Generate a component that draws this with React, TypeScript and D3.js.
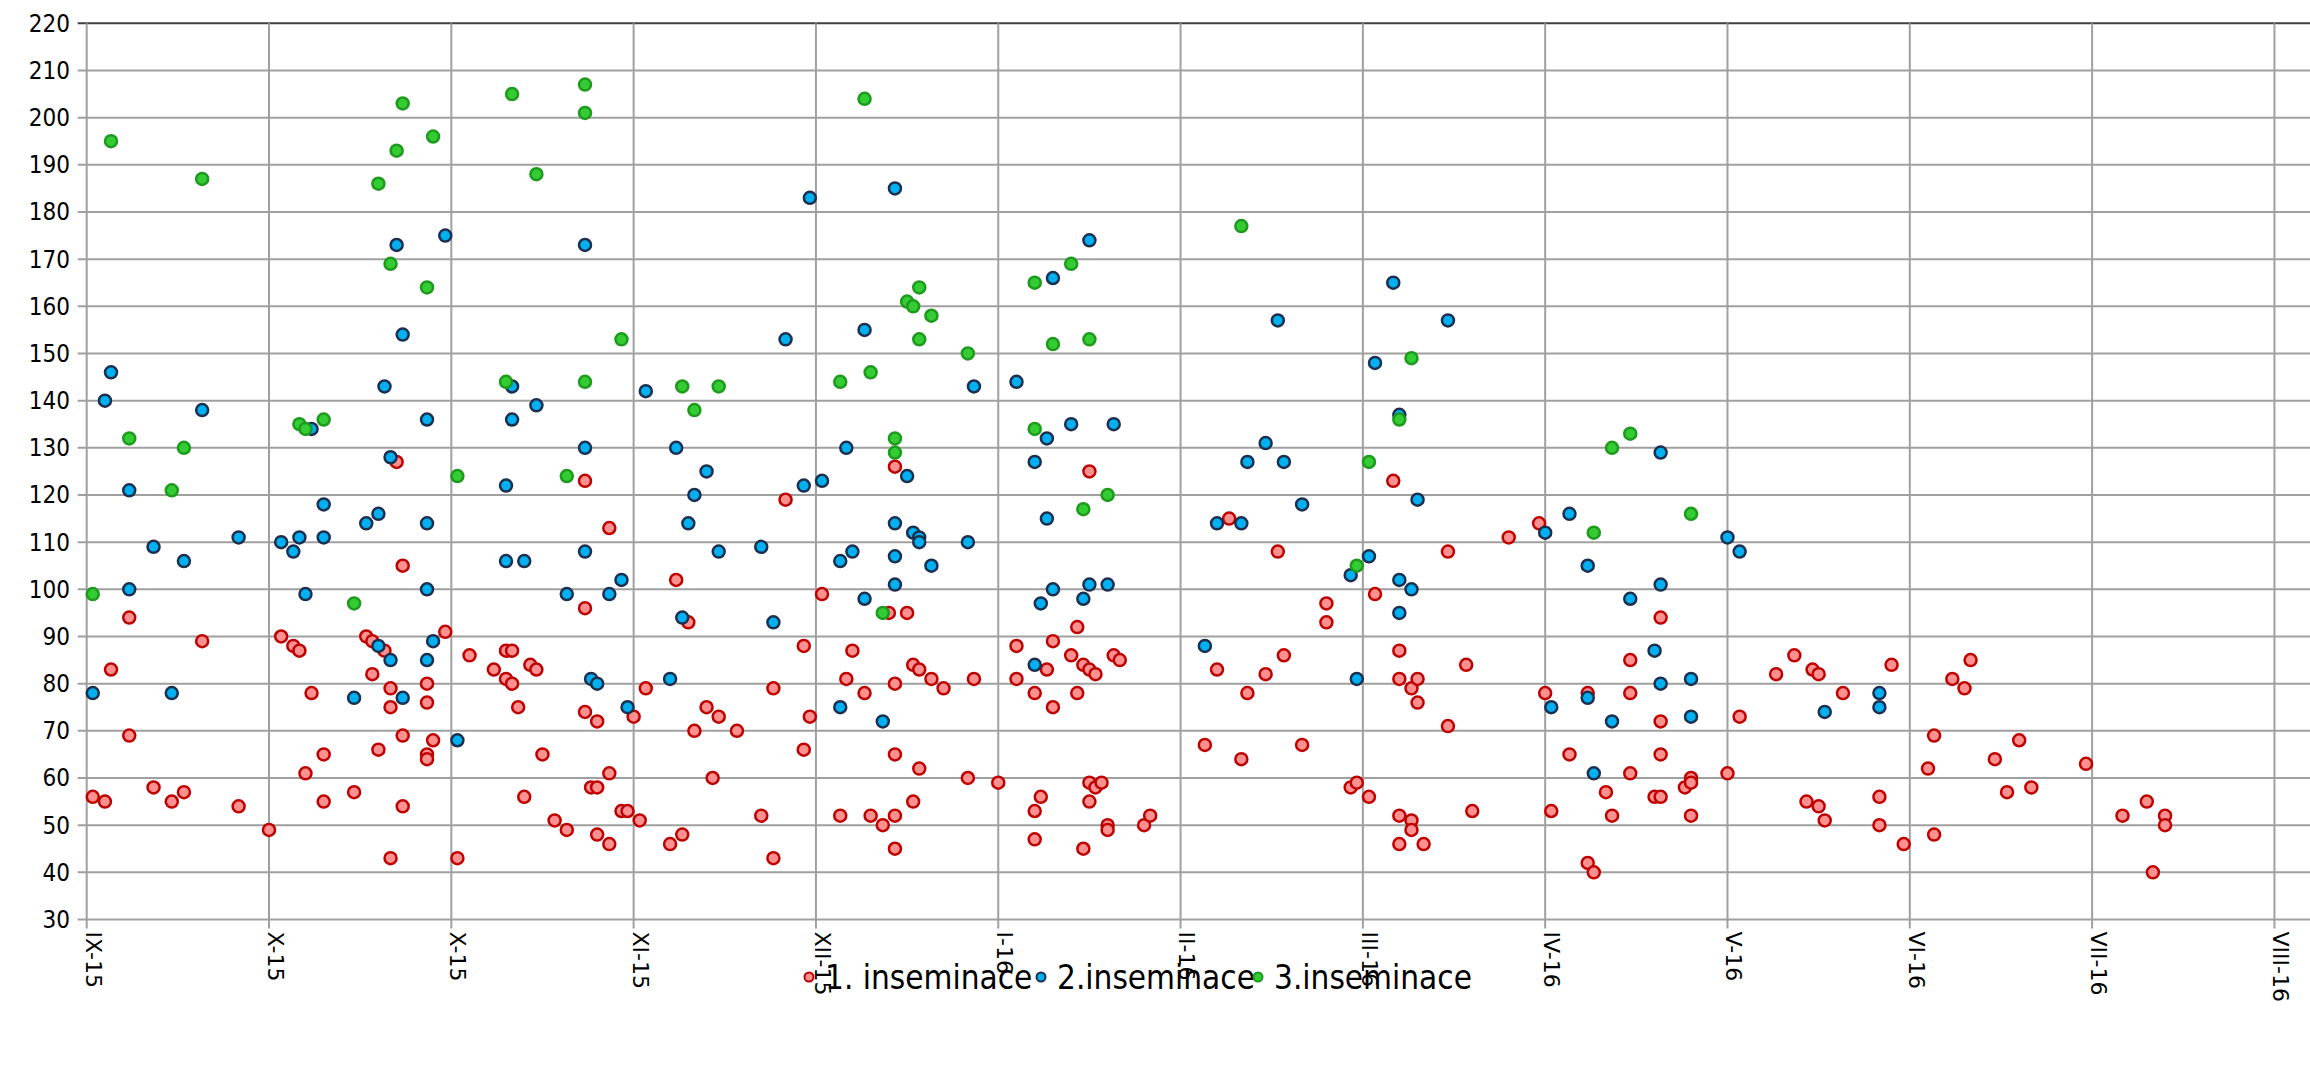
import React, { useEffect, useRef } from 'react';
import * as d3 from 'd3';

// x = days since 1.9.2015, y = value
const ins1: [number, number][] = [
  [1, 56], [3, 55], [4, 83], [7, 94], [7, 69], [11, 58], [14, 55], [16, 57], [19, 89], [25, 54], [30, 49],
  [32, 90], [34, 88], [35, 87], [36, 61], [37, 78], [39, 65], [39, 55], [44, 57], [46, 90], [47, 89], [47, 82],
  [48, 66], [49, 87], [50, 79], [50, 75], [50, 43], [51, 127], [52, 105], [52, 69], [52, 54], [56, 80], [56, 76],
  [56, 65], [56, 64], [57, 68], [59, 91], [61, 43],
  [63, 86], [67, 83], [69, 87], [69, 81], [70, 87], [70, 80], [71, 75], [72, 56], [73, 84], [74, 83], [75, 65],
  [77, 51], [79, 49], [82, 123], [82, 96], [82, 74], [83, 58], [84, 72], [84, 58], [84, 48], [86, 113], [86, 61],
  [86, 46], [88, 53], [89, 53], [90, 73], [91, 51], [92, 79], [96, 46], [97, 102], [98, 48], [99, 93], [100, 70],
  [102, 75], [103, 60], [104, 73], [107, 70], [111, 52], [113, 79], [113, 43], [115, 119], [118, 88], [118, 66],
  [119, 73], [121, 99], [124, 52],
  [126, 87], [125, 81], [128, 78], [129, 52], [131, 50], [132, 95], [133, 126], [133, 80], [133, 65], [133, 52],
  [133, 45], [135, 95], [136, 84], [136, 55], [137, 83], [137, 62], [139, 81], [141, 79], [145, 60], [146, 81],
  [150, 59], [153, 88], [153, 81], [156, 78], [156, 53], [156, 47], [157, 56], [158, 83], [159, 89], [159, 75],
  [162, 86], [163, 92], [163, 78], [164, 84], [164, 45], [165, 125], [165, 83], [165, 59], [165, 55], [166, 82],
  [166, 58], [167, 59], [168, 50], [168, 49], [169, 86], [170, 85], [174, 50], [175, 52], [184, 67], [186, 83],
  [188, 115], [190, 64], [191, 78], [194, 82], [196, 108], [197, 86], [200, 67], [204, 97], [204, 93], [208, 58],
  [209, 59], [211, 56], [212, 99], [215, 123], [216, 87], [216, 81], [216, 52], [216, 46], [218, 79], [218, 51],
  [218, 49], [219, 81], [219, 76], [220, 46], [224, 108], [224, 71], [227, 84], [228, 53], [234, 111], [239, 114],
  [240, 78], [241, 53], [244, 65], [247, 78], [247, 42], [248, 40],
  [250, 57], [251, 52], [254, 85], [254, 78], [254, 61], [258, 56], [259, 94], [259, 72], [259, 65], [259, 56],
  [263, 58], [264, 60], [264, 59], [264, 52], [270, 61], [272, 73], [278, 82], [281, 86], [283, 55], [284, 83],
  [285, 82], [285, 54], [286, 51], [289, 78], [295, 56], [295, 50], [297, 84], [299, 46], [303, 62], [304, 69],
  [304, 48], [307, 81], [309, 79], [310, 85],
  [314, 64], [316, 57], [318, 68], [320, 58], [329, 63], [335, 52], [339, 55], [340, 40], [342, 52], [342, 50],
];

const ins2: [number, number][] = [
  [1, 78], [3, 140], [4, 146], [7, 121], [7, 100], [11, 109], [14, 78], [16, 106], [19, 138], [25, 111], [32, 110],
  [34, 108], [35, 111], [36, 99], [37, 134], [39, 118], [39, 111], [44, 77], [46, 114], [48, 116], [48, 88],
  [49, 143], [50, 128], [50, 85], [51, 173], [52, 154], [52, 77], [56, 136], [56, 114], [56, 100], [56, 85],
  [57, 89], [59, 175], [61, 68],
  [69, 122], [69, 106], [70, 143], [70, 136], [72, 106], [74, 139], [79, 99], [82, 173], [82, 130], [82, 108],
  [83, 81], [84, 80], [86, 99], [88, 102], [89, 75], [92, 142], [96, 81], [97, 130], [98, 94], [99, 114], [100, 120],
  [102, 125], [104, 108], [111, 109], [113, 93], [115, 153], [118, 122], [119, 183], [121, 123], [124, 106], [124, 75],
  [125, 130], [126, 108], [128, 155], [128, 98], [131, 72], [133, 185], [133, 114], [133, 107], [133, 101],
  [135, 124], [136, 112], [137, 111], [137, 110], [139, 105], [145, 110], [146, 143], [153, 144], [156, 127],
  [156, 84], [157, 97], [158, 132], [158, 115], [159, 166], [159, 100], [162, 135], [164, 98], [165, 174],
  [165, 101], [168, 101], [169, 135], [184, 88], [186, 114],
  [190, 114], [191, 127], [194, 131], [196, 157], [197, 127], [200, 118], [208, 103], [209, 81], [211, 107],
  [212, 148], [215, 165], [216, 137], [216, 102], [216, 95], [218, 100], [219, 119], [224, 157], [240, 112],
  [241, 75], [244, 116], [247, 105], [247, 77], [248, 61],
  [251, 72], [254, 98], [258, 87], [259, 129], [259, 101], [259, 80], [264, 81], [264, 73], [270, 111], [272, 108],
  [286, 74], [295, 78], [295, 75],
];

const ins3: [number, number][] = [
  [1, 99], [4, 195], [7, 132], [14, 121], [16, 130], [19, 187], [35, 135], [36, 134], [39, 136], [44, 97],
  [48, 186], [50, 169], [51, 193], [52, 203], [56, 164], [57, 196], [61, 124],
  [69, 144], [70, 205], [74, 188], [79, 124], [82, 207], [82, 201], [82, 144], [88, 153], [98, 143], [100, 138],
  [104, 143], [124, 144],
  [128, 204], [129, 146], [131, 95], [133, 132], [133, 129], [135, 161], [136, 160], [137, 164], [137, 153],
  [139, 158], [145, 150], [156, 165], [156, 134], [159, 152], [162, 169], [164, 117], [165, 153], [168, 120],
  [190, 177], [209, 105], [211, 127], [216, 136], [218, 149],
  [248, 112], [251, 130], [254, 133], [264, 116],
];

const tickLabels = ['IX-15', 'X-15', 'X-15', 'XI-15', 'XII-15', 'I-16', 'II-16', 'III-16', 'IV-16', 'V-16', 'VI-16', 'VII-16', 'VIII-16'];
const seriesNames = ['1. inseminace', '2.inseminace', '3.inseminace'];

const W = 2310;
const H = 1078;

const ScatterChart = () => {
  const svgRef = useRef<SVGSVGElement>(null);

  useEffect(() => {
    const svg = d3.select(svgRef.current);
    svg.selectAll('*').remove();

    const left = 86.7, top = 23.3, bottom = 919.5;
    const x = d3.scaleLinear().domain([0, 366]).range([left, left + 366 * 6.077]);
    const y = d3.scaleLinear().domain([30, 220]).range([bottom, top]);

    const labelFont = "'Liberation Sans Narrow', 'DejaVu Sans Condensed', 'Liberation Sans', sans-serif";

    const series = [
      { data: ins1, fill: '#ff9090', stroke: '#c00000' },
      { data: ins2, fill: '#00b0f0', stroke: '#1b2f4e' },
      { data: ins3, fill: '#33cc33', stroke: '#1e9a1e' },
    ];

    // horizontal grid
    const yTicks = d3.range(30, 221, 10);
    svg.append('g')
      .selectAll('line')
      .data(yTicks)
      .enter()
      .append('line')
      .attr('x1', left - 9)
      .attr('x2', W)
      .attr('y1', d => y(d))
      .attr('y2', d => y(d))
      .attr('stroke', d => (d === 220 ? '#404040' : '#a0a0a0'))
      .attr('stroke-width', 2);

    // vertical grid, every 30 days
    const xTicks = tickLabels.map((_, i) => i * 30);
    svg.append('g')
      .selectAll('line')
      .data(xTicks)
      .enter()
      .append('line')
      .attr('x1', d => x(d))
      .attr('x2', d => x(d))
      .attr('y1', top)
      .attr('y2', bottom + 9)
      .attr('stroke', '#a0a0a0')
      .attr('stroke-width', 2);

    // y labels
    svg.append('g')
      .selectAll('text')
      .data(yTicks)
      .enter()
      .append('text')
      .text(d => d)
      .attr('x', 70)
      .attr('y', d => y(d))
      .attr('dy', '0.35em')
      .attr('text-anchor', 'end')
      .style('font-family', labelFont)
      .style('font-size', '24px')
      .attr('fill', '#000');

    // x labels, rotated
    svg.append('g')
      .selectAll('text')
      .data(tickLabels)
      .enter()
      .append('text')
      .text(d => d)
      .attr('transform', (d, i) => `translate(${x(i * 30)}, ${bottom + 12}) rotate(90)`)
      .attr('dy', '0.05em')
      .attr('text-anchor', 'start')
      .style('font-family', "'DejaVu Sans', sans-serif")
      .style('font-size', '22px')
      .attr('fill', '#000');

    // points
    series.forEach(s => {
      svg.append('g')
        .selectAll('circle')
        .data(s.data)
        .enter()
        .append('circle')
        .attr('cx', d => x(d[0]))
        .attr('cy', d => y(d[1]))
        .attr('r', 6)
        .attr('fill', s.fill)
        .attr('stroke', s.stroke)
        .attr('stroke-width', 2.5);
    });

    // legend
    const legendX = [809, 1041, 1258];
    const legend = svg.append('g');
    seriesNames.forEach((name, i) => {
      legend.append('circle')
        .attr('cx', legendX[i])
        .attr('cy', 977)
        .attr('r', 4.5)
        .attr('fill', series[i].fill)
        .attr('stroke', series[i].stroke)
        .attr('stroke-width', 2);
      legend.append('text')
        .text(name)
        .attr('x', legendX[i] + 16)
        .attr('y', 977)
        .attr('dy', '0.35em')
        .style('font-family', labelFont)
        .style('font-size', '33px')
        .attr('fill', '#000');
    });
  }, []);

  return <svg ref={svgRef} width={W} height={H} style={{ position: 'absolute', left: 0, top: 0, background: '#fff' }} />;
};

export default function App() {
  return <ScatterChart />;
}
